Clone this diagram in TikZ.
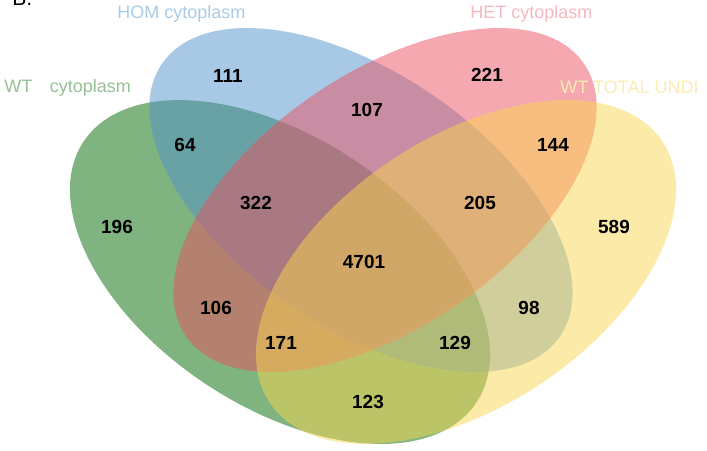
\documentclass[tikz,border=0pt]{standalone}
\usepackage{fontspec}
\setmainfont{Liberation Sans}
\definecolor{wtcyto}{RGB}{0,103,0}
\definecolor{homcyto}{RGB}{81,147,205}
\definecolor{hetcyto}{RGB}{235,81,97}
\definecolor{wttotal}{RGB}{249,213,81}
\tikzset{
    venn_set/.style={
        fill opacity=0.5,
        draw=none
    },
    venn_count/.style={
        font=\fontsize{13.5}{16}\selectfont\bfseries,
        inner sep=0pt
    },
    venn_label/.style={
        font=\fontsize{12.8}{15}\selectfont,
        inner sep=0pt,
        anchor=base west
    }
}

\begin{document}
\begin{tikzpicture}[x=0.025cm, y=0.025cm]
\useasboundingbox (0,0) rectangle (707,450);

% --- Sets ---
\fill[venn_set, wtcyto, rotate around={-33.6:(280,178)}] (280,178) ellipse (235.8 and 134.4);
\fill[venn_set, homcyto, rotate around={-34.4:(361,250)}] (361,250) ellipse (241.2 and 127.1);
\fill[venn_set, hetcyto, rotate around={34.4:(385,250)}] (385,250) ellipse (241.2 and 127.1);
\fill[venn_set, wttotal, rotate around={33.6:(466,178)}] (466,178) ellipse (235.8 and 134.4);

% --- Set names ---
\node[venn_label, font=\fontsize{15}{18}\selectfont] (panel) at (12,445) {B.};
\node[venn_label, text={rgb,255:red,168;green,203;blue,230}] (homName) at (117,432) {HOM cytoplasm};
\node[venn_label, text={rgb,255:red,246;green,184;blue,192}] (hetName) at (470,432) {HET cytoplasm};
\node[venn_label, text={rgb,255:red,150;green,192;blue,150}] (wtName) at (4,358) {WT\hspace{12.5pt}cytoplasm};
\node[venn_label, text={rgb,255:red,252;green,236;blue,176}] (totalName) at (560,357) {WT TOTAL UNDI};

% --- Counts ---
\node[venn_count] (nHom) at (228,374) {111};
\node[venn_count] (nHet) at (487,375) {221};
\node[venn_count] (nWtHom) at (185,305) {64};
\node[venn_count] (nHetTot) at (553,305) {144};
\node[venn_count] (nWt) at (117,223) {196};
\node[venn_count] (nTot) at (614,223) {589};
\node[venn_count] (nHomHet) at (367,340) {107};
\node[venn_count] (nWtHomHet) at (256,247) {322};
\node[venn_count] (nHomHetTot) at (480,247) {205};
\node[venn_count] (nAll) at (364,188) {4701};
\node[venn_count] (nWtHet) at (216,142) {106};
\node[venn_count] (nHomTot) at (529,142) {98};
\node[venn_count] (nWtHetTot) at (281,107) {171};
\node[venn_count] (nWtHomTot) at (455,107) {129};
\node[venn_count] (nWtTot) at (368,48) {123};

\end{tikzpicture}
\end{document}
